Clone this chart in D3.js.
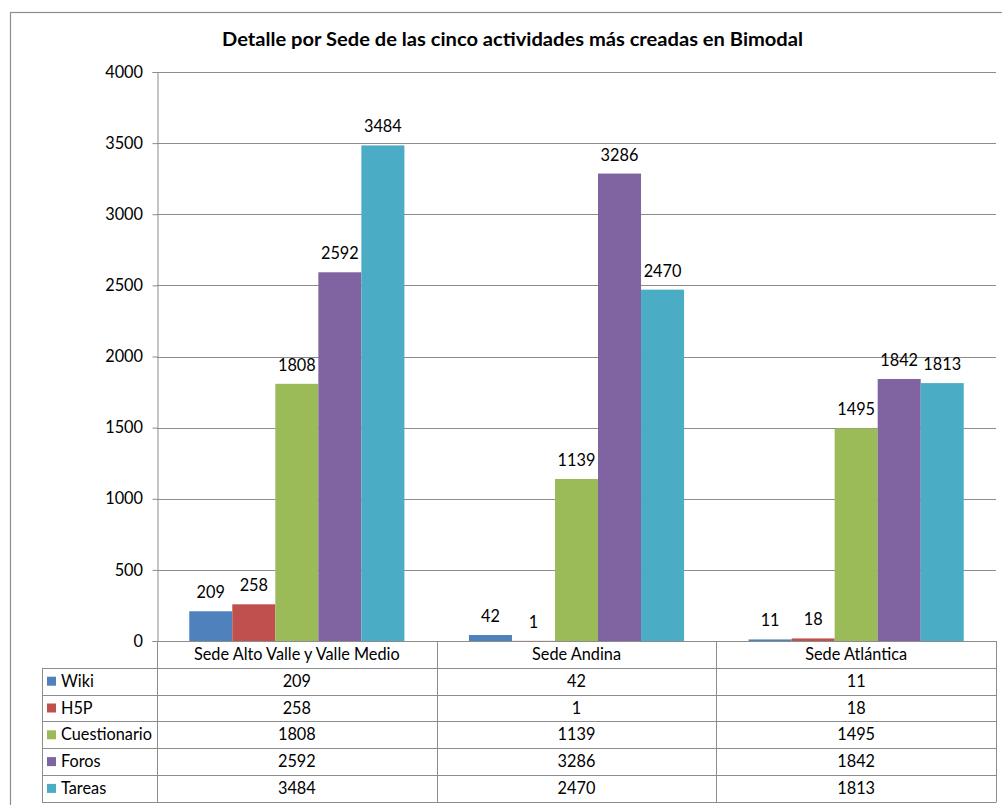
<!DOCTYPE html>
<html><head><meta charset="utf-8">
<script src="https://cdn.jsdelivr.net/npm/d3@7"></script>
<style>body{margin:0;background:#fff;} svg{display:block;font-family:Lato, "Open Sans", sans-serif;}</style>
</head><body>
<svg id="c" width="1002" height="805"></svg>
<script>
const categories = ["Sede Alto Valle y Valle Medio", "Sede Andina", "Sede Atlántica"];
const seriesNames = ["Wiki", "H5P", "Cuestionario", "Foros", "Tareas"];
const wiki = [209, 42, 11];
const h5p = [258, 1, 18];
const cuestionario = [1808, 1139, 1495];
const foros = [2592, 3286, 1842];
const tareas = [3484, 2470, 1813];
const yTicks = [0, 500, 1000, 1500, 2000, 2500, 3000, 3500, 4000];
const colors = ["#4F81BD", "#C0504D", "#9BBB59", "#8064A2", "#4BACC6"];
const title = "Detalle por Sede de las cinco actividades más creadas en Bimodal";

const values = [wiki, h5p, cuestionario, foros, tareas];
const svg = d3.select("#c");
const L = 157, R = 996, T = 72, B = 641;
const rowH = 26.8;
const tableLeft = 42;
const fs = 16.3;

// outer border
svg.append("rect").attr("x", 10.5).attr("y", 12.5).attr("width", 1100).attr("height", 900)
  .attr("fill", "none").attr("stroke", "#8c8c8c").attr("stroke-width", 1.2);

svg.append("text").attr("x", 222).attr("y", 46)
  .attr("font-size", 18.5).attr("font-weight", "bold").attr("fill", "#000")
  .attr("textLength", 581).attr("lengthAdjust", "spacingAndGlyphs").text(title);

const x0 = d3.scaleBand().domain(categories).range([L, R]);
const x1 = d3.scaleBand().domain(seriesNames).range([0, x0.bandwidth()]).paddingInner(0).paddingOuter(0.75);
const y = d3.scaleLinear().domain([0, 4000]).range([B, T]);

// gridlines
svg.append("g").selectAll("line").data(yTicks.filter(d => d > 0)).join("line")
  .attr("x1", L).attr("x2", R).attr("y1", d => Math.round(y(d)) + 0.5).attr("y2", d => Math.round(y(d)) + 0.5)
  .attr("stroke", "#8c8c8c").attr("stroke-width", 1);

// y axis
const yAxis = d3.axisLeft(y).tickValues(yTicks).tickSize(5).tickPadding(9.5).tickFormat(d3.format("d"));
const ga = svg.append("g").attr("transform", `translate(${L + 0.5},0)`).call(yAxis);
ga.select(".domain").attr("stroke", "#8c8c8c");
ga.selectAll(".tick line").attr("stroke", "#8c8c8c");
ga.selectAll(".tick text").attr("font-size", fs).attr("fill", "#000").attr("font-family", "Lato, sans-serif");

// bars
const groups = svg.append("g").selectAll("g").data(categories).join("g")
  .attr("transform", c => `translate(${x0(c)},0)`);
groups.each(function(c, ci) {
  const g = d3.select(this);
  seriesNames.forEach((s, si) => {
    const v = values[si][ci];
    g.append("rect").attr("x", x1(s)).attr("width", x1.bandwidth())
      .attr("y", y(v)).attr("height", B - y(v)).attr("fill", colors[si]);
    g.append("text").attr("x", x1(s) + x1.bandwidth() / 2).attr("y", y(v) - 13)
      .attr("text-anchor", "middle").attr("font-size", fs).attr("fill", "#000").text(v);
  });
});

// baseline
svg.append("line").attr("x1", L).attr("x2", R).attr("y1", B + 0.5).attr("y2", B + 0.5).attr("stroke", "#8c8c8c");

// data table
const tg = svg.append("g");
const lineColor = "#8c8c8c";
const tableBottom = B + rowH * 6;
for (let r = 1; r <= 6; r++) {
  const yy = Math.round(B + rowH * r) + 0.5;
  tg.append("line").attr("x1", tableLeft).attr("x2", R).attr("y1", yy).attr("y2", yy).attr("stroke", lineColor);
}
tg.append("line").attr("x1", tableLeft + 0.5).attr("x2", tableLeft + 0.5).attr("y1", Math.round(B + rowH) + 0.5).attr("y2", Math.round(tableBottom) + 0.5).attr("stroke", lineColor);
[L, x0(categories[1]), x0(categories[2]), R].forEach(xx => {
  tg.append("line").attr("x1", Math.round(xx) + 0.5).attr("x2", Math.round(xx) + 0.5)
    .attr("y1", B).attr("y2", Math.round(tableBottom) + 0.5).attr("stroke", lineColor);
});
categories.forEach(c => {
  tg.append("text").attr("x", x0(c) + x0.bandwidth() / 2).attr("y", B + rowH / 2 + 6)
    .attr("text-anchor", "middle").attr("font-size", fs).attr("fill", "#000").text(c);
});
seriesNames.forEach((s, si) => {
  const cy = B + rowH * (si + 1) + rowH / 2;
  tg.append("rect").attr("x", 47).attr("y", cy - 4.5).attr("width", 9).attr("height", 9).attr("fill", colors[si]);
  tg.append("text").attr("x", 61).attr("y", cy + 5.5).attr("font-size", fs).attr("fill", "#000").text(s);
  categories.forEach((c, ci) => {
    tg.append("text").attr("x", x0(c) + x0.bandwidth() / 2).attr("y", cy + 5.5)
      .attr("text-anchor", "middle").attr("font-size", fs).attr("fill", "#000").text(values[si][ci]);
  });
});
</script>
</body></html>
